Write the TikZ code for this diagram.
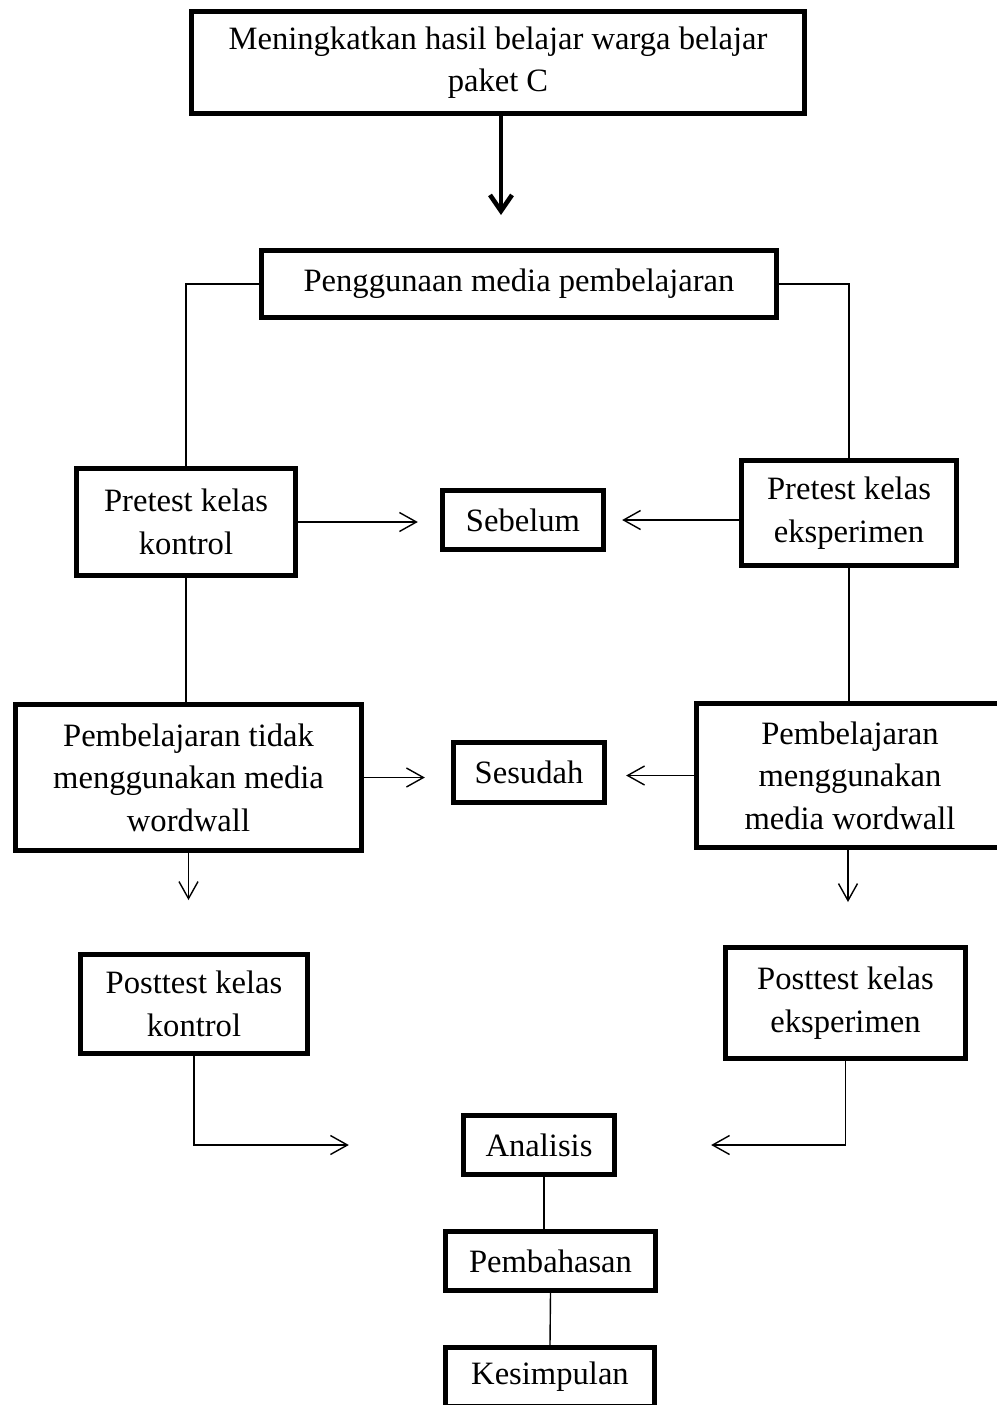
\documentclass[tikz,border=0pt]{standalone}
\usepackage{fontspec}
\setmainfont{Liberation Serif}
\usetikzlibrary{arrows.meta}

\tikzset{
	kotak/.style={draw, line width=2.4pt, align=center, inner sep=0pt, font=\fontsize{16.3}{21.3}\selectfont},
	garis/.style={line width=0.7pt},
	panah/.style={garis, -{Straight Barb[length=8.5pt,width=9.5pt]}},
	panahtebal/.style={line width=2.3pt, -{Straight Barb[length=8pt,width=11pt]}}
}

\begin{document}
\begin{tikzpicture}[x=0.5pt, y=-0.5pt]
			%%%%% START %%%%%
			\useasboundingbox (0,0) rectangle (997,1405);
			
			\node[kotak, minimum width=306.75pt, minimum height=51.25pt] (atas) at (498,62.5) {Meningkatkan hasil belajar warga belajar\\paket C};
			\node[kotak, minimum width=257.75pt, minimum height=33.75pt] (guna) at (519,284) {Penggunaan media pembelajaran};
			\coordinate (ujung) at (501,215);
			\draw[panahtebal] (atas.south -| ujung) -- (ujung);
			
			\node[kotak, minimum width=109.75pt, minimum height=53.75pt] (prekon) at (186,522) {Pretest kelas\\kontrol};
			\node[kotak, minimum width=80.75pt, minimum height=29.75pt] (sebelum) at (523,520) {Sebelum};
			\node[kotak, minimum width=107.75pt, minimum height=52.75pt] (preeks) at (849,513) {Pretest kelas\\eksperimen};
			\draw[garis] (guna.west) -| (prekon.north);
			\draw[garis] (guna.east) -| (preeks.north);
			\draw[panah, shorten >=11pt] (prekon.east) -- (prekon.east -| sebelum.west);
			\draw[panah, shorten >=8pt] (sebelum.east -| preeks.west) -- (sebelum.east);
			
			\node[kotak, minimum width=173.25pt, minimum height=73.25pt] (ajarkon) at (188.5,777.5) {Pembelajaran tidak\\menggunakan media\\wordwall};
			\node[kotak, minimum width=75.75pt, minimum height=30.25pt] (sesudah) at (529,772.5) {Sesudah};
			\node[kotak, minimum width=153.75pt, minimum height=72.25pt] (ajareks) at (850,775.5) {Pembelajaran\\menggunakan\\media wordwall};
			\draw[garis] (prekon.south) -- (prekon.south |- ajarkon.north);
			\draw[garis] (preeks.south) -- (preeks.south |- ajareks.north);
			\draw[panah, shorten >=13pt] (ajarkon.east) -- (ajarkon.east -| sesudah.west);
			\draw[panah, shorten >=9.5pt] (ajareks.west) -- (ajareks.west -| sesudah.east);
			
			\coordinate (turunkon) at (188.5,900);
			\coordinate (turuneks) at (848,902);
			\draw[panah] (ajarkon.south) -- (turunkon);
			\draw[panah] (ajareks.south -| turuneks) -- (turuneks);
			
			\node[kotak, minimum width=113.75pt, minimum height=49.75pt] (postkon) at (194,1004) {Posttest kelas\\kontrol};
			\node[kotak, minimum width=120.25pt, minimum height=55.75pt] (posteks) at (845.5,1003) {Posttest kelas\\eksperimen};
			
			\node[kotak, minimum width=75.75pt, minimum height=29.75pt] (analisis) at (539,1145) {Analisis};
			\node[kotak, minimum width=105.25pt, minimum height=29.75pt] (bahas) at (550.5,1261) {Pembahasan};
			\node[kotak, minimum width=104.75pt, minimum height=29.75pt] (simpul) at (550,1377) {Kesimpulan};
			\draw[panah, shorten >=56pt] (postkon.south) |- (analisis.west);
			\draw[panah, shorten >=47pt] (posteks.south) |- (analisis.east);
			\draw[garis] ([xshift=2.5pt]analisis.south) -- ([xshift=2.5pt]analisis.south |- bahas.north);
			\draw[garis] (bahas.south) -- (simpul.north);
			
			%%%%% END %%%%%
\end{tikzpicture}
\end{document}
